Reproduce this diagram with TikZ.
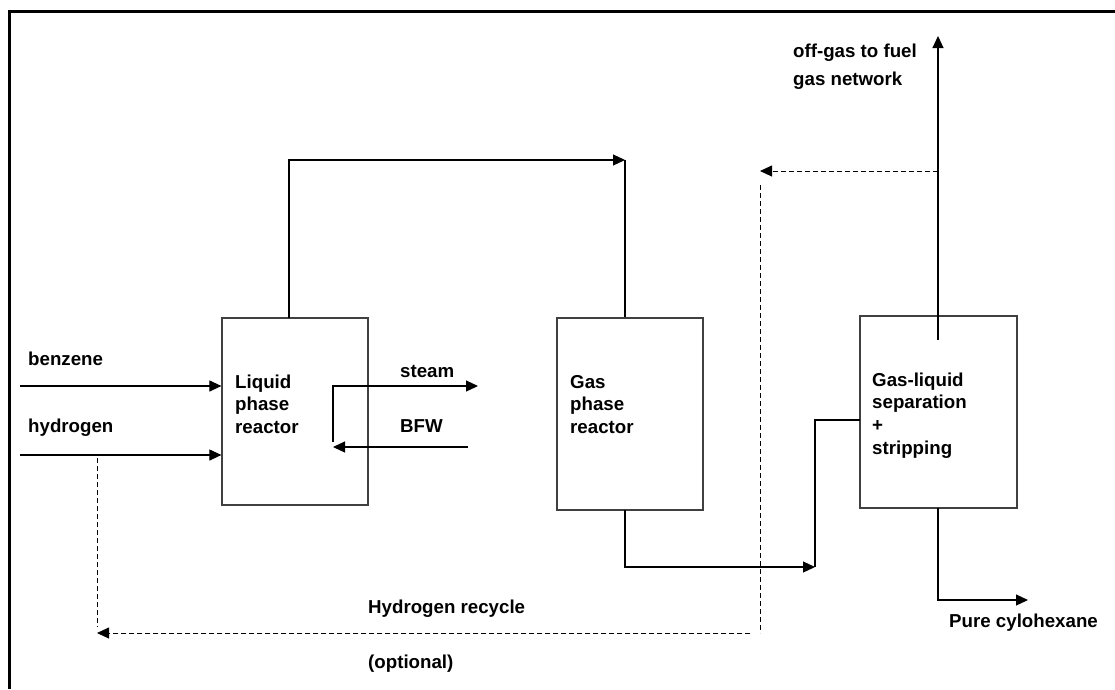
\documentclass[tikz,border=0pt]{standalone}
\usepackage{fontspec}
\setmainfont{Liberation Sans}
\usetikzlibrary{arrows.meta}
\begin{document}
\begin{tikzpicture}[x=1pt,y=-1pt,
  box/.style={draw=black!75,line width=1.2pt,inner sep=0pt},
  conn/.style={draw=black,line width=1.1pt},
  arr/.style={conn,-{Triangle[length=12pt,width=11pt]}},
  dconn/.style={draw=black,line width=0.8pt,dash pattern=on 5pt off 3pt},
  darr/.style={dconn,-{Triangle[length=12pt,width=11pt]}},
  lbl/.style={inner sep=0pt,font=\bfseries\fontsize{18.7}{22.6}\selectfont,align=left},
  frame/.style={draw=black,line width=3pt}]
\useasboundingbox (0,0) rectangle (1115,689);
% frame
\coordinate (fTL) at (9,11);
\coordinate (fTR) at (1115,11);
\coordinate (fBL) at (9,689);
\draw[frame] (fBL) -- (fTL) -- (fTR);

% unit boxes
\node[box,minimum width=146pt,minimum height=187pt] (lpr) at (295,411.5) {};
\node[box,minimum width=146pt,minimum height=192pt] (gpr) at (630,414) {};
\node[box,minimum width=157pt,minimum height=192pt] (sep) at (938.5,412) {};

% box texts
\node[lbl,anchor=base west] (lprt1) at (235,388) {Liquid};
\node[lbl,anchor=base west] (lprt2) at (235,410.6) {phase};
\node[lbl,anchor=base west] (lprt3) at (235,433.2) {reactor};
\node[lbl,anchor=base west] (gprt1) at (570,388) {Gas};
\node[lbl,anchor=base west] (gprt2) at (570,410.6) {phase};
\node[lbl,anchor=base west] (gprt3) at (570,433.2) {reactor};
\node[lbl,anchor=base west] (sept1) at (872,386) {Gas-liquid};
\node[lbl,anchor=base west] (sept2) at (872,408.7) {separation};
\node[lbl,anchor=base west] (sept3) at (872,431.4) {+};
\node[lbl,anchor=base west] (sept4) at (872,454) {stripping};

% stream labels
\node[lbl,anchor=base west] (tbz) at (28,365) {benzene};
\node[lbl,anchor=base west] (th2) at (28,432) {hydrogen};
\node[lbl,anchor=base west] (tst) at (400,377) {steam};
\node[lbl,anchor=base west] (tbfw) at (400,432) {BFW};
\node[lbl,anchor=base west] (toff1) at (793,57) {off-gas to fuel};
\node[lbl,anchor=base west] (toff2) at (793,85) {gas network};
\node[lbl,anchor=base west] (thr) at (368,613) {Hydrogen recycle};
\node[lbl,anchor=base west] (topt) at (368,668) {(optional)};
\node[lbl,anchor=base west] (tpc) at (949,627) {Pure cylohexane};

% feeds
\coordinate (bzin) at (20,386);
\coordinate (h2in) at (20,455);
\draw[arr] (bzin) -- (bzin -| lpr.west);
\draw[arr] (h2in) -- (h2in -| lpr.west);

% steam / BFW
\coordinate (bfwin) at (468,447);
\coordinate (bfwend) at (333,447);
\coordinate (stbot) at (333,442);
\coordinate (stout) at (478,386);
\draw[arr] (bfwin) -- (bfwend);
\draw[arr] (stbot) |- (stout);

% liquid reactor -> gas reactor
\coordinate (lprtop) at (289,318);
\coordinate (bend1) at (625,160);
\draw[arr] (lprtop) |- (bend1);
\draw[conn] (bend1) -- (bend1 |- gpr.north);

% gas reactor -> separation
\coordinate (gbot) at (625,510);
\coordinate (bend2) at (815,567);
\coordinate (sepin) at (860,420);
\draw[arr] (gbot) |- (bend2);
\draw[conn] (bend2) |- (sepin);

% off-gas
\coordinate (offin) at (938,340);
\coordinate (offout) at (938,36);
\draw[arr] (offin) -- (offout);

% hydrogen recycle (dashed)
\coordinate (rsplit) at (938,171);
\coordinate (rtip) at (760,171);
\coordinate (rdown) at (760,185);
\coordinate (rcorner) at (760,633);
\coordinate (rhstart) at (750,633);
\coordinate (rend) at (97,633);
\coordinate (rtop) at (97,458);
\coordinate (rbot) at (97,627);
\draw[darr] (rsplit) -- (rtip);
\draw[dconn] (rdown) -- (rcorner);
\draw[darr] (rhstart) -- (rend);
\draw[dconn] (rtop) -- (rbot);

% product
\coordinate (sbot) at (938,508);
\coordinate (pcout) at (1028,600);
\draw[arr] (sbot) |- (pcout);
\end{tikzpicture}
\end{document}
